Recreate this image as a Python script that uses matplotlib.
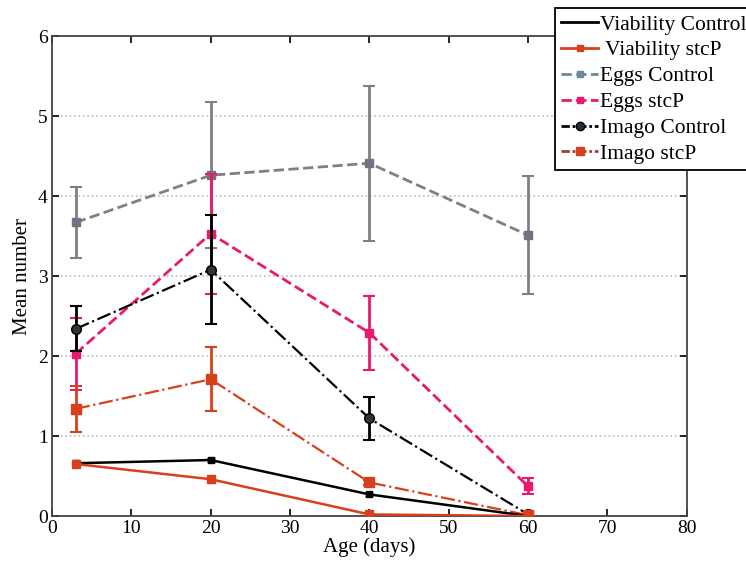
import matplotlib
matplotlib.use('Agg')
import matplotlib.pyplot as plt
from matplotlib.lines import Line2D

plt.rcParams['font.family'] = ['Liberation Serif', 'DejaVu Serif']

ages = [3, 20, 40, 60]

via_ctrl = [0.66, 0.70, 0.27, 0.0]
via_ctrl_err = [0.02, 0.03, 0.02, 0.0]
via_stcp = [0.65, 0.46, 0.02, 0.0]
via_stcp_err = [0.02, 0.02, 0.01, 0.0]
eggs_ctrl = [3.67, 4.26, 4.41, 3.51]
eggs_ctrl_err = [0.44, 0.91, 0.97, 0.74]
eggs_stcp = [2.03, 3.53, 2.29, 0.37]
eggs_stcp_err = [0.45, 0.75, 0.46, 0.10]
imago_ctrl = [2.34, 3.08, 1.22, 0.02]
imago_ctrl_err = [0.28, 0.68, 0.27, 0.01]
imago_stcp = [1.34, 1.71, 0.42, 0.01]
imago_stcp_err = [0.29, 0.40, 0.03, 0.01]

labels = ['Viability Control', ' Viability stcP', 'Eggs Control', 'Eggs stcP',
          'Imago Control', 'Imago stcP']

fig = plt.figure(figsize=(7.46, 5.68), dpi=100)
ax = fig.add_axes([0.0697, 0.0915, 0.851, 0.845])

red = '#d8401c'
pink = '#e8196f'
grey = '#808080'

ax.errorbar(ages, eggs_ctrl, yerr=eggs_ctrl_err, color=grey, ls='--', lw=2,
            marker='s', ms=6, mfc='#6e7580', mec='#6e7580', capsize=4,
            elinewidth=2, capthick=1.5, zorder=2)
ax.errorbar(ages, eggs_stcp, yerr=eggs_stcp_err, color=pink, ls='--', lw=2,
            marker='s', ms=6, capsize=4, elinewidth=2, capthick=1.5, zorder=3)
ax.errorbar(ages, imago_ctrl, yerr=imago_ctrl_err, color='black', ls='-.', lw=1.6,
            marker='o', ms=7, mfc='#333333', capsize=4, elinewidth=2, capthick=1.5,
            zorder=4)
ax.errorbar(ages, imago_stcp, yerr=imago_stcp_err, color=red, ls='-.', lw=1.6,
            marker='s', ms=7, capsize=4, elinewidth=2, capthick=1.5, zorder=4)
ax.errorbar(ages, via_ctrl, yerr=via_ctrl_err, color='black', ls='-', lw=1.8,
            marker='s', ms=5, capsize=3, elinewidth=1.5, zorder=5)
ax.errorbar(ages, via_stcp, yerr=via_stcp_err, color=red, ls='-', lw=1.8,
            marker='s', ms=6, capsize=3, elinewidth=1.5, zorder=5)

ax.set_xlim(0, 80)
ax.set_ylim(0, 6)
ax.set_xticks(range(0, 81, 10))
ax.set_yticks(range(0, 7))
ax.yaxis.grid(True, ls=':', color='#bbbbbb', lw=1.2)
ax.tick_params(direction='in', top=True, right=True, labelsize=14, length=5,
               width=1.2, pad=3)
for s in ax.spines.values():
    s.set_color('#444444')
    s.set_linewidth(1.3)
ax.set_xlabel('Age (days)', fontsize=15, labelpad=0)
ax.set_ylabel('Mean number', fontsize=15, labelpad=4)

# legend: short line + marker samples, no error bars
handles = [
    Line2D([], [], color='black', ls='-', lw=2),
    Line2D([], [], color=red, ls='-', lw=2, marker='s', ms=5),
    Line2D([], [], color='#6a8a9a', ls='--', lw=2, marker='s', ms=5),
    Line2D([], [], color=pink, ls='--', lw=2, marker='s', ms=5),
    Line2D([], [], color='black', ls=(0, (3, 1, 1, 1)), lw=2, marker='o', ms=6,
           mfc='#203040'),
    Line2D([], [], color='#a04030', ls=(0, (3, 1, 1, 1)), lw=2, marker='s', ms=6,
           mfc=red, mec=red),
]
leg = fig.legend(handles, labels, loc='upper left',
                 bbox_to_anchor=(555 / 746, 1 - 8 / 568),
                 bbox_transform=fig.transFigure, fontsize=15.5, fancybox=False,
                 framealpha=1, edgecolor='black', handlelength=1.7,
                 handletextpad=0.1, borderpad=0.3, labelspacing=0.27,
                 borderaxespad=0)
leg.get_frame().set_linewidth(1.3)

fig.savefig('out.png', dpi=100)
